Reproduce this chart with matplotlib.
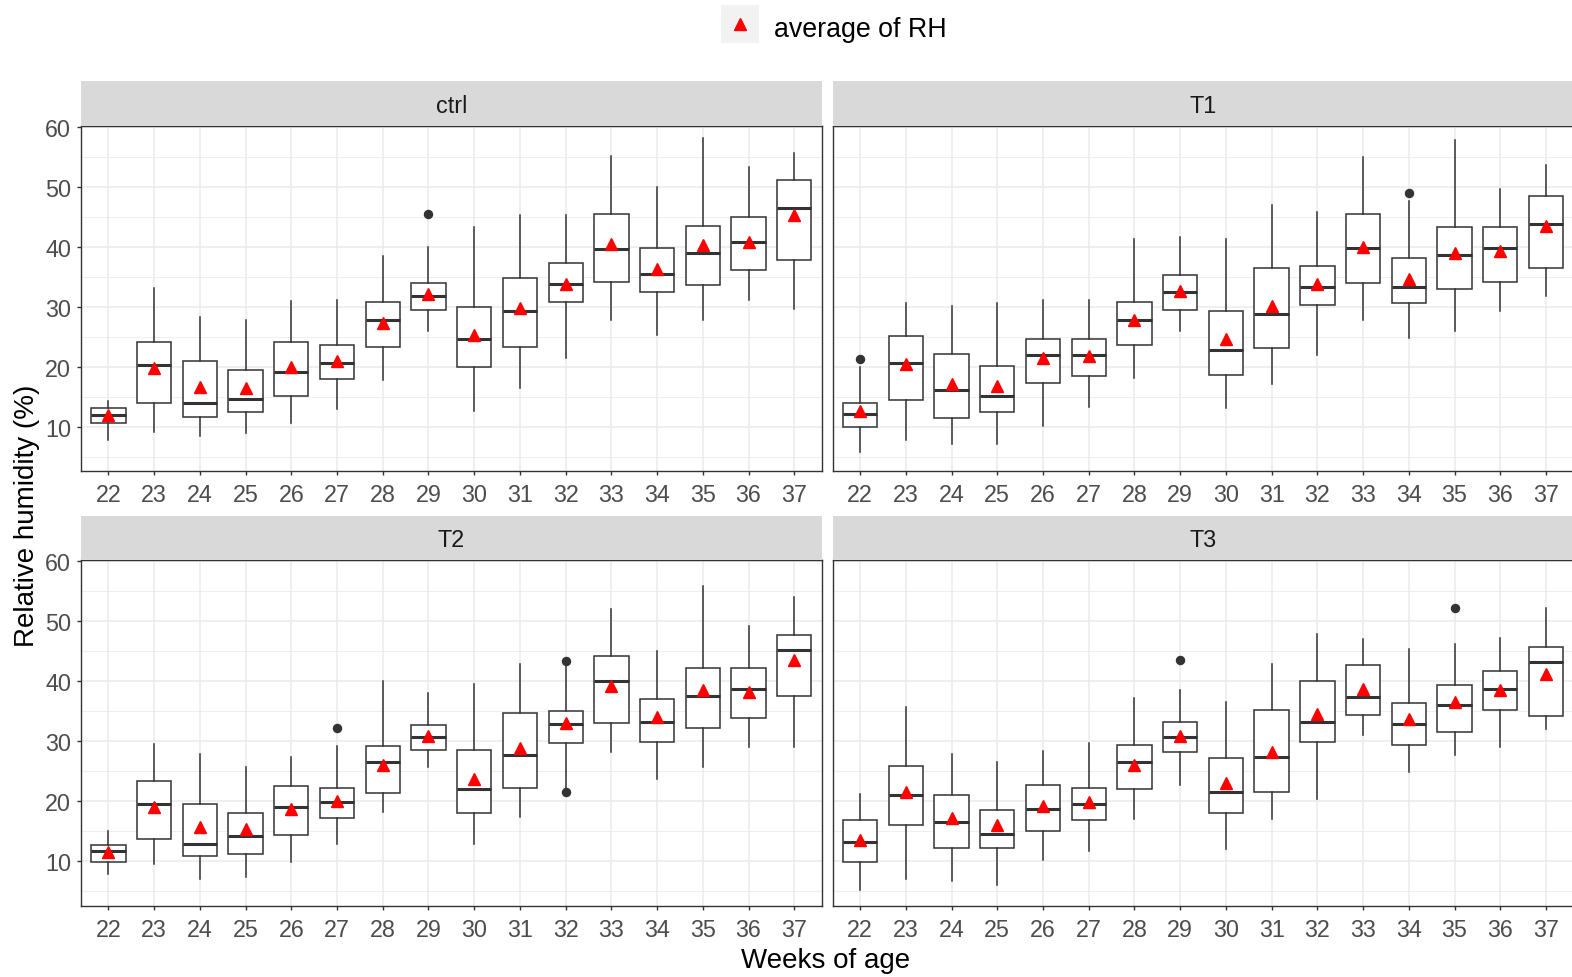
import matplotlib
matplotlib.use("Agg")
import matplotlib.pyplot as plt
from matplotlib.ticker import MultipleLocator

plt.rcParams['font.family'] = ['Liberation Sans', 'DejaVu Sans']

W, H = 1572, 978

weeks = [str(w) for w in range(22, 38)]
panels = ["ctrl", "T1", "T2", "T3"]

# ctrl
ctrl_lo = [7.7, 9.1, 8.5, 8.9, 10.6, 13.0, 17.8, 26.0, 12.7, 16.4, 21.4, 27.9, 25.4, 27.9, 31.1, 29.6]
ctrl_q1 = [10.7, 14.0, 11.7, 12.5, 15.2, 18.0, 23.3, 29.5, 19.9, 23.3, 30.9, 34.2, 32.5, 33.7, 36.2, 37.9]
ctrl_med = [12.0, 20.3, 13.9, 14.7, 19.2, 20.6, 27.9, 31.9, 24.6, 29.3, 33.9, 39.7, 35.6, 39.1, 40.9, 46.5]
ctrl_q3 = [13.2, 24.1, 21.0, 19.4, 24.1, 23.6, 30.9, 34.0, 30.0, 34.8, 37.4, 45.5, 39.9, 43.5, 45.0, 51.2]
ctrl_hi = [14.3, 33.2, 28.4, 27.9, 31.0, 31.2, 38.6, 40.0, 43.4, 45.3, 45.3, 55.2, 50.1, 58.2, 53.4, 55.7]
ctrl_mean = [12.0, 19.8, 16.7, 16.4, 19.9, 20.9, 27.4, 32.1, 25.4, 29.9, 33.9, 40.5, 36.3, 40.3, 40.9, 45.3]
ctrl_out = {"29": [45.5]}

# T1
t1_lo = [5.7, 7.7, 7.1, 7.1, 10.2, 13.3, 18.1, 26.0, 13.1, 17.2, 22.0, 27.9, 24.9, 26.0, 29.3, 31.9]
t1_q1 = [10.0, 14.5, 11.4, 12.5, 17.3, 18.5, 23.6, 29.5, 18.7, 23.2, 30.3, 34.0, 30.6, 33.0, 34.2, 36.5]
t1_med = [12.2, 20.6, 16.1, 15.2, 22.0, 22.0, 27.9, 32.5, 22.9, 28.8, 33.3, 39.8, 33.3, 38.7, 39.8, 43.9]
t1_q3 = [14.0, 25.2, 22.2, 20.2, 24.7, 24.7, 30.9, 35.4, 29.4, 36.5, 36.9, 45.5, 38.2, 43.3, 43.3, 48.6]
t1_hi = [19.9, 30.7, 30.1, 30.7, 31.2, 31.2, 41.4, 41.7, 41.4, 47.0, 45.9, 55.1, 47.8, 57.9, 49.8, 53.7]
t1_mean = [12.7, 20.4, 17.2, 16.8, 21.5, 21.8, 27.9, 32.7, 24.6, 30.1, 33.8, 40.0, 34.7, 39.0, 39.4, 43.5]
t1_out = {"22": [21.3], "34": [49.1]}

# T2
t2_lo = [7.9, 9.6, 7.1, 7.4, 9.9, 12.9, 18.3, 25.7, 12.9, 17.4, 22.0, 28.2, 23.7, 25.7, 29.1, 29.1]
t2_q1 = [9.9, 13.7, 10.9, 11.3, 14.4, 17.2, 21.4, 28.6, 18.1, 22.2, 29.7, 33.0, 29.9, 32.2, 33.9, 37.5]
t2_med = [11.8, 19.6, 12.9, 14.3, 19.0, 19.9, 26.5, 30.7, 22.1, 27.7, 32.9, 40.0, 33.3, 37.6, 38.8, 45.2]
t2_q3 = [12.8, 23.4, 19.5, 18.1, 22.5, 22.2, 29.2, 32.8, 28.6, 34.7, 35.0, 44.2, 37.0, 42.3, 42.3, 47.8]
t2_hi = [15.0, 29.6, 27.9, 25.7, 27.4, 29.3, 40.1, 38.1, 39.5, 42.9, 42.9, 52.0, 45.1, 55.9, 49.3, 54.1]
t2_mean = [11.6, 19.0, 15.7, 15.4, 18.8, 20.0, 26.0, 30.9, 23.7, 28.9, 33.0, 39.3, 34.0, 38.6, 38.3, 43.6]
t2_out = {"27": [32.3], "32": [43.4, 21.5]}

# T3
t3_lo = [5.3, 7.1, 6.7, 6.0, 10.2, 11.8, 17.1, 22.7, 12.1, 17.1, 20.4, 31.0, 24.9, 27.7, 29.1, 32.1]
t3_q1 = [9.9, 16.0, 12.2, 12.2, 15.0, 16.9, 22.1, 28.3, 18.0, 21.6, 29.9, 34.4, 29.4, 31.6, 35.3, 34.2]
t3_med = [13.2, 21.0, 16.5, 14.6, 18.8, 19.6, 26.5, 30.7, 21.5, 27.4, 33.2, 37.4, 32.9, 36.0, 38.8, 43.2]
t3_q3 = [16.9, 25.9, 21.1, 18.6, 22.8, 22.2, 29.4, 33.3, 27.2, 35.3, 40.0, 42.8, 36.4, 39.4, 41.7, 45.8]
t3_hi = [21.2, 35.7, 27.9, 26.5, 28.4, 29.8, 37.3, 38.5, 36.5, 42.9, 47.9, 47.1, 45.4, 46.2, 47.3, 52.3]
t3_mean = [13.5, 21.5, 17.3, 16.0, 19.2, 19.9, 26.1, 30.9, 23.0, 28.3, 34.5, 38.7, 33.7, 36.6, 38.6, 41.2]
t3_out = {"29": [43.6], "35": [52.3]}

series = [
    (ctrl_lo, ctrl_q1, ctrl_med, ctrl_q3, ctrl_hi, ctrl_mean, ctrl_out),
    (t1_lo, t1_q1, t1_med, t1_q3, t1_hi, t1_mean, t1_out),
    (t2_lo, t2_q1, t2_med, t2_q3, t2_hi, t2_mean, t2_out),
    (t3_lo, t3_q1, t3_med, t3_q3, t3_hi, t3_mean, t3_out),
]

def rect(x0, y0, x1, y1):
    # pixel box (top-down) -> figure fraction
    return [x0 / W, 1 - y1 / H, (x1 - x0) / W, (y1 - y0) / H]

panel_px = [(81, 126.7, 821.7, 472), (832.7, 126.7, 1573.4, 472),
            (81, 560.7, 821.7, 906.7), (832.7, 560.7, 1573.4, 906.7)]
strip_top = [81.7, 81.7, 516.7, 516.7]

dark = '#333333'
grid_c = '#EBEBEB'

fig = plt.figure(figsize=(W / 100, H / 100), dpi=100)

for k, (name, data) in enumerate(zip(panels, series)):
    lo, q1, med, q3, hi, mean, out = data
    x0, y0, x1, y1 = panel_px[k]
    ax = fig.add_axes(rect(x0, y0, x1, y1))
    stats = []
    for i, w in enumerate(weeks):
        stats.append(dict(whislo=lo[i], q1=q1[i], med=med[i], q3=q3[i],
                          whishi=hi[i], mean=mean[i], fliers=out.get(w, [])))
    ax.bxp(stats, positions=range(len(weeks)), widths=0.75, showcaps=False,
           showmeans=True, patch_artist=True, manage_ticks=False,
           boxprops=dict(facecolor='white', edgecolor=dark, linewidth=1.1),
           whiskerprops=dict(color=dark, linewidth=1.1),
           medianprops=dict(color=dark, linewidth=2.2),
           flierprops=dict(marker='o', markerfacecolor=dark, markeredgecolor=dark,
                           markersize=5.8),
           meanprops=dict(marker='^', markerfacecolor='red', markeredgecolor='red',
                          markersize=8))
    ax.set_xlim(-0.6, len(weeks) - 0.4)
    ax.set_ylim(2.6, 60.3)
    ax.set_xticks(range(len(weeks)))
    ax.set_xticklabels(weeks)
    ax.yaxis.set_major_locator(MultipleLocator(10))
    ax.yaxis.set_minor_locator(MultipleLocator(5))
    ax.set_axisbelow(True)
    ax.grid(which='major', color=grid_c, linewidth=1.1)
    ax.grid(which='minor', axis='y', color=grid_c, linewidth=0.55)
    for s in ax.spines.values():
        s.set_color(dark)
        s.set_linewidth(1.0)
    ax.tick_params(which='major', length=3.2, width=1.0, color=dark,
                   labelcolor='#4D4D4D', labelsize=16.8)
    ax.tick_params(axis='x', pad=5.5)
    ax.tick_params(axis='y', pad=4)
    ax.tick_params(which='minor', length=0)
    if k % 2 == 1:
        ax.tick_params(axis='y', left=False, labelleft=False)

    sx = fig.add_axes(rect(x0, strip_top[k], x1, y0))
    sx.set_facecolor('#D9D9D9')
    sx.set_xticks([])
    sx.set_yticks([])
    for s in sx.spines.values():
        s.set_visible(False)
    sx.text(0.5, 0.45, name, ha='center', va='center', fontsize=16.8,
            color='#1A1A1A', transform=sx.transAxes)

# legend at top
kx = fig.add_axes(rect(720.5, 6, 759, 44))
kx.set_facecolor('#F2F2F2')
kx.set_xticks([])
kx.set_yticks([])
for s in kx.spines.values():
    s.set_visible(False)
kx.plot([0.5], [0.5], marker='^', color='red', markersize=8, linestyle='')
kx.set_xlim(0, 1)
kx.set_ylim(0, 1)
fig.text(774 / W, 1 - 30 / H, "average of RH", ha='left', va='center',
         fontsize=19.3, color='black')

fig.text(27 / W, 1 - 516 / H, "Relative humidity (%)", rotation=90,
         ha='center', va='center', fontsize=20, color='black')
fig.text(826 / W, 1 - 961 / H, "Weeks of age", ha='center', va='center',
         fontsize=20, color='black')

fig.savefig('out.png', dpi=100)
